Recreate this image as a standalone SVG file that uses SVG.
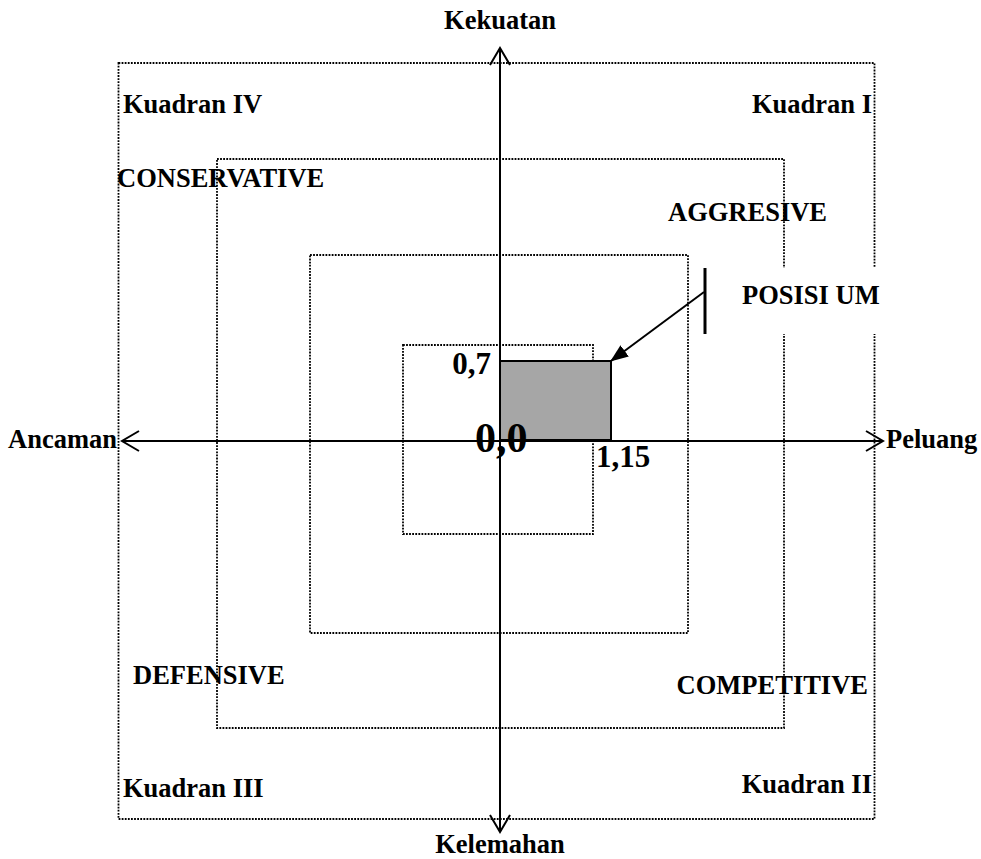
<svg xmlns="http://www.w3.org/2000/svg" width="981" height="859" viewBox="0 0 981 859">
<style>
.dot{fill:none;stroke:#000;stroke-width:1.8;stroke-dasharray:1.8 1.3}
.t{font-family:"Liberation Serif","Times New Roman",serif;font-weight:bold;font-size:26.5px;fill:#000}
.n{font-family:"Liberation Serif","Times New Roman",serif;font-weight:bold;font-size:31px;fill:#000}
.axis{stroke:#000;stroke-width:2;fill:none}
</style>
<defs>
<marker id="open" viewBox="0 0 20 22" refX="18" refY="11" markerWidth="20" markerHeight="22" markerUnits="userSpaceOnUse" orient="auto-start-reverse">
<path d="M1,1 L18,11 L1,21" fill="none" stroke="#000" stroke-width="2"/>
</marker>
<marker id="solid" viewBox="0 0 18 14" refX="17" refY="7" markerWidth="18" markerHeight="14" markerUnits="userSpaceOnUse" orient="auto">
<path d="M0,0 L18,7 L0,14 Z" fill="#000"/>
</marker>
</defs>
<g id="frames">
<rect id="outer" class="dot" x="118.5" y="63" width="756" height="756"/>
<rect id="ring2" class="dot" x="217" y="159" width="567" height="569"/>
<rect id="ring3" class="dot" x="310" y="255" width="378" height="378"/>
<rect id="ring4" class="dot" x="403" y="345" width="190" height="189"/>
<rect id="label-bg" x="712" y="268" width="170" height="66" fill="#fff"/>
</g>
<g id="position">
<rect x="500" y="361" width="111" height="79" fill="#a6a6a6" stroke="#000" stroke-width="2"/>
</g>
<g id="connectors">
<line class="axis" x1="500" y1="48" x2="500" y2="832" marker-start="url(#open)" marker-end="url(#open)"/>
<line class="axis" x1="122" y1="441" x2="883" y2="441" marker-start="url(#open)" marker-end="url(#open)"/>
<line x1="704" y1="292" x2="611" y2="361" stroke="#000" stroke-width="2" marker-end="url(#solid)"/>
<line x1="705" y1="268" x2="705" y2="334" stroke="#000" stroke-width="3"/>
</g>
<g id="labels">
<text class="t" x="500" y="29" text-anchor="middle">Kekuatan</text>
<text class="t" x="500" y="853" text-anchor="middle">Kelemahan</text>
<text class="t" x="8" y="448">Ancaman</text>
<text class="t" x="886" y="448">Peluang</text>
<text class="t" x="123" y="113">Kuadran IV</text>
<text class="t" x="872" y="113" text-anchor="end">Kuadran I</text>
<text class="t" x="123" y="797">Kuadran III</text>
<text class="t" x="872" y="793" text-anchor="end">Kuadran II</text>
<text class="t" x="117" y="187">CONSERVATIVE</text>
<text class="t" x="668" y="221">AGGRESIVE</text>
<text class="t" x="133" y="684">DEFENSIVE</text>
<text class="t" x="868" y="694" text-anchor="end">COMPETITIVE</text>
<text class="t" x="742" y="304">POSISI UM</text>
<text class="n" x="491" y="374" text-anchor="end">0,7</text>
<text class="n" x="596" y="467">1,15</text>
<text class="n" x="475" y="452" style="font-size:42px">0,0</text>
</g>
</svg>
